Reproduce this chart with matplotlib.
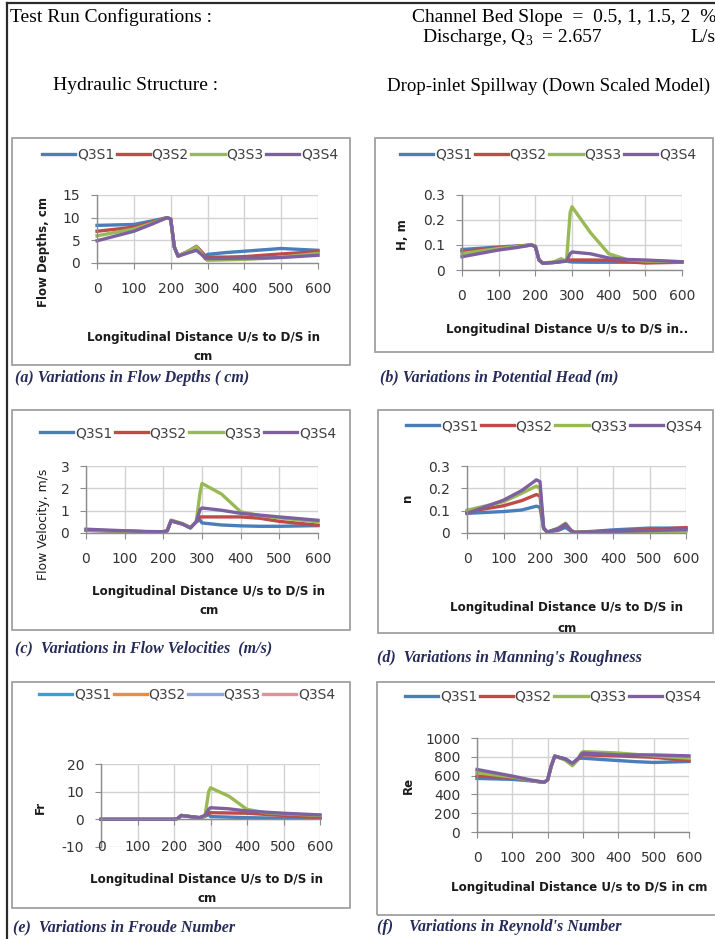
import matplotlib.pyplot as plt
from matplotlib.lines import Line2D
from matplotlib.patches import Rectangle

W, H = 715, 939

# longitudinal distance U/s to D/S (cm)
x_cm = [0, 100, 150, 190, 200, 210, 220, 250, 270, 285, 295, 300, 350, 400, 450, 500, 600]
x_ticks = [0, 100, 200, 300, 400, 500, 600]
series = ['Q3S1', 'Q3S2', 'Q3S3', 'Q3S4']

# (a) flow depth, cm
flow_depth = [
    [8.3, 8.5, 9.3, 10.0, 9.7, 3.5, 1.6, 2.6, 3.4, 2.2, 1.5, 1.9, 2.3, 2.6, 2.9, 3.2, 2.8],
    [7.0, 7.9, 9.0, 10.0, 9.7, 3.5, 1.5, 2.7, 3.7, 2.4, 1.4, 1.3, 1.3, 1.4, 1.7, 2.0, 2.5],
    [6.0, 7.5, 8.8, 10.0, 9.7, 3.5, 1.5, 2.7, 3.6, 2.0, 0.8, 0.6, 0.7, 0.8, 1.0, 1.3, 2.1],
    [4.9, 7.0, 8.6, 10.0, 9.7, 3.5, 1.5, 2.3, 2.8, 1.8, 1.0, 1.0, 1.0, 1.1, 1.1, 1.2, 1.7],
]
# (b) potential head, m
head_m = [
    [0.082, 0.092, 0.096, 0.100, 0.095, 0.040, 0.028, 0.030, 0.033, 0.035, 0.033, 0.032, 0.031, 0.031, 0.031, 0.032, 0.033],
    [0.074, 0.089, 0.095, 0.100, 0.095, 0.040, 0.028, 0.030, 0.034, 0.036, 0.040, 0.040, 0.040, 0.039, 0.033, 0.028, 0.031],
    [0.066, 0.086, 0.094, 0.100, 0.095, 0.040, 0.028, 0.032, 0.045, 0.035, 0.230, 0.253, 0.150, 0.065, 0.042, 0.036, 0.033],
    [0.053, 0.080, 0.090, 0.100, 0.093, 0.040, 0.027, 0.030, 0.034, 0.036, 0.065, 0.072, 0.065, 0.048, 0.042, 0.040, 0.033],
]
# (c) flow velocity, m/s
velocity = [
    [0.12, 0.08, 0.06, 0.05, 0.05, 0.10, 0.54, 0.40, 0.24, 0.50, 0.58, 0.45, 0.36, 0.32, 0.30, 0.30, 0.33],
    [0.12, 0.08, 0.06, 0.05, 0.05, 0.10, 0.54, 0.40, 0.24, 0.50, 0.72, 0.72, 0.72, 0.72, 0.66, 0.52, 0.35],
    [0.14, 0.08, 0.06, 0.05, 0.05, 0.10, 0.58, 0.42, 0.24, 0.50, 1.80, 2.22, 1.75, 0.95, 0.78, 0.68, 0.50],
    [0.17, 0.10, 0.07, 0.06, 0.06, 0.10, 0.55, 0.40, 0.22, 0.50, 1.05, 1.12, 1.02, 0.88, 0.80, 0.72, 0.57],
]
# (d) Manning's n
manning_n = [
    [0.088, 0.096, 0.103, 0.120, 0.115, 0.020, 0.004, 0.012, 0.025, 0.008, 0.003, 0.003, 0.008, 0.014, 0.018, 0.022, 0.022],
    [0.095, 0.122, 0.145, 0.172, 0.166, 0.020, 0.004, 0.018, 0.037, 0.010, 0.003, 0.003, 0.006, 0.009, 0.012, 0.015, 0.024],
    [0.102, 0.140, 0.178, 0.210, 0.200, 0.022, 0.004, 0.022, 0.044, 0.012, 0.003, 0.003, 0.004, 0.005, 0.006, 0.007, 0.008],
    [0.088, 0.147, 0.190, 0.238, 0.230, 0.022, 0.004, 0.020, 0.040, 0.012, 0.003, 0.003, 0.005, 0.007, 0.009, 0.011, 0.015],
]
# (e) Froude number
froude = [
    [0, 0, 0, 0, 0, 0.3, 1.4, 0.9, 0.6, 1.0, 1.8, 1.0, 0.8, 0.6, 0.5, 0.4, 0.4],
    [0, 0, 0, 0, 0, 0.3, 1.4, 0.9, 0.6, 1.2, 2.4, 2.4, 2.3, 2.2, 1.8, 1.4, 0.6],
    [0, 0, 0, 0, 0, 0.3, 1.4, 0.9, 0.6, 1.2, 10.0, 11.4, 8.4, 3.6, 2.4, 2.0, 1.4],
    [0, 0, 0, 0, 0, 0.3, 1.4, 0.9, 0.6, 1.5, 3.6, 4.2, 3.8, 3.0, 2.6, 2.2, 1.6],
]
# (f) Reynold's number
reynolds = [
    [570, 560, 545, 528, 555, 700, 805, 780, 730, 780, 785, 785, 772, 760, 748, 740, 750],
    [595, 580, 548, 528, 555, 700, 808, 770, 715, 770, 815, 820, 815, 810, 802, 795, 760],
    [630, 585, 550, 528, 555, 700, 808, 765, 705, 770, 840, 855, 848, 840, 825, 810, 785],
    [665, 595, 555, 530, 555, 700, 808, 775, 730, 775, 825, 840, 830, 820, 820, 820, 810],
]

line_colors = ['#4A7EBB', '#BE4B48', '#98B954', '#7D60A0']
legend_e_colors = ['#31A6C9', '#F08A3A', '#8DA9DB', '#DA9694']

XL = 'Longitudinal Distance U/s to D/S in'

panels = [
    dict(data=flow_depth, box=(12, 138, 350, 365), plot=(97, 195, 318, 263),
         ylim=(0, 15), yticks=[0, 5, 10, 15], ylabels=['0', '5', '10', '15'],
         legend=(190, 155), ylab=('Flow Depths, cm', 43, 252, 'bold', 8.5),
         xlab=[(XL, 204, 337), ('cm', 203, 357)],
         cap=('(a) Variations in Flow Depths ( cm)', 15, 378)),
    dict(data=head_m, box=(375, 138, 713, 352), plot=(462, 195, 682, 270),
         ylim=(0, 0.3), yticks=[0, 0.1, 0.2, 0.3], ylabels=['0', '0.1', '0.2', '0.3'],
         legend=(548, 155), ylab=('H, m', 402, 235, 'bold', 8.5),
         xlab=[(XL + '..', 567, 330)],
         cap=('(b) Variations in Potential Head (m)', 380, 377)),
    dict(data=velocity, box=(12, 410, 350, 630), plot=(86, 466, 318, 533),
         ylim=(0, 3), yticks=[0, 1, 2, 3], ylabels=['0', '1', '2', '3'],
         legend=(188, 433), ylab=('Flow Velocity, m/s', 43, 524, 'normal', 8.9),
         xlab=[(XL, 209, 592), ('cm', 209, 610)],
         cap=('(c)  Variations in Flow Velocities  (m/s)', 15, 648)),
    dict(data=manning_n, box=(378, 410, 713, 633), plot=(467, 466, 686, 533),
         ylim=(0, 0.3), yticks=[0, 0.1, 0.2, 0.3], ylabels=['0', '0.1', '0.2', '0.3'],
         legend=(554, 426), ylab=('n', 408, 498, 'bold', 8.5),
         xlab=[(XL, 567, 608), ('cm', 567, 628)],
         cap=("(d)  Variations in Manning's Roughness", 377, 658)),
    dict(data=froude, box=(12, 682, 350, 908), plot=(101, 764, 320, 847),
         ylim=(-10, 20), yticks=[-10, 0, 10, 20], ylabels=['-10', '0', '10', '20'],
         legend=(187, 695), ylab=('Fr', 40, 807, 'bold', 8.5),
         xlab=[(XL, 207, 880), ('cm', 207, 898)],
         cap=('(e)  Variations in Froude Number', 13, 927), lowlabels=True),
    dict(data=reynolds, box=(377, 682, 720, 915), plot=(477, 738, 689, 832),
         ylim=(0, 1000), yticks=[0, 200, 400, 600, 800, 1000],
         ylabels=['0', '200', '400', '600', '800', '1000'],
         legend=(553, 697), ylab=('Re', 408, 785, 'bold', 8.5),
         xlab=[(XL + ' cm', 579, 887)],
         cap=("(f)    Variations in Reynold's Number", 377, 927)),
]

plt.rcParams['mathtext.fontset'] = 'custom'
plt.rcParams['mathtext.rm'] = 'Liberation Serif'

fig = plt.figure(figsize=(W / 100, H / 100), dpi=100)
fig.patch.set_facecolor('white')


def fx(x):
    return x / W


def fy(y):
    return 1 - y / H


def ptext(x, y, s, **kw):
    kw.setdefault('va', 'center')
    fig.text(fx(x), fy(y), s, **kw)


# page border lines
fig.add_artist(Line2D([fx(7), fx(7)], [0, fy(3)], color='#2b2b2b', lw=1.6))
fig.add_artist(Line2D([fx(7), 1], [fy(3), fy(3)], color='#2b2b2b', lw=1.6))

serif = 'Liberation Serif'
ptext(10, 17, 'Test Run Configurations :', family=serif, fontsize=14)
ptext(412, 17, 'Channel Bed Slope  =  0.5, 1, 1.5, 2  %', family=serif, fontsize=14)
ptext(422, 38, 'Discharge, Q$_3$', family=serif, fontsize=14)
ptext(542, 38, '= 2.657', family=serif, fontsize=14)
ptext(690, 38, 'L/s', family=serif, fontsize=14)
ptext(53, 86, 'Hydraulic Structure :', family=serif, fontsize=14)
ptext(387, 86, 'Drop-inlet Spillway (Down Scaled Model)', family=serif, fontsize=13.6)

for i, p in enumerate(panels):
    bl, bt, br, bb = p['box']
    fig.add_artist(Rectangle((fx(bl), fy(bb)), (br - bl) / W, (bb - bt) / H,
                             transform=fig.transFigure, fill=False,
                             ec='#a0a0a0', lw=1.3))
    l, t, r, b = p['plot']
    ax = fig.add_axes([fx(l), fy(b), (r - l) / W, (b - t) / H])
    for k, vals in enumerate(p['data']):
        ax.plot(x_cm, vals, color=line_colors[k], lw=2.4, clip_on=False,
                solid_joinstyle='round')
    ax.set_xlim(0, 600)
    ax.set_ylim(*p['ylim'])
    ax.set_xticks(x_ticks)
    ax.set_yticks(p['yticks'])
    ax.set_yticklabels(p['ylabels'])
    for s in ['top', 'right']:
        ax.spines[s].set_visible(False)
    for s in ['left', 'bottom']:
        ax.spines[s].set_color('#8c8c8c')
        ax.spines[s].set_linewidth(1.0)
    ax.grid(True, color='#d2d2d2', lw=1.0)
    ax.set_axisbelow(True)
    ax.tick_params(axis='both', length=4, color='#8c8c8c', labelsize=10,
                   labelcolor='#333333')
    ax.tick_params(axis='y', pad=8)
    ax.tick_params(axis='x', pad=10)
    if p.get('lowlabels'):
        ax.spines['bottom'].set_position(('data', 0))
        ax.tick_params(axis='x', labelbottom=False)
        for xv in x_ticks:
            ax.text(xv, p['ylim'][0], str(xv), ha='center', va='center',
                    fontsize=10, color='#333333', clip_on=False)
        lc = legend_e_colors
    else:
        ax.set_xticklabels([str(v) for v in x_ticks])
        lc = line_colors
    handles = [Line2D([], [], color=c, lw=2.4) for c in lc]
    cx, cy = p['legend']
    ax.legend(handles, series, loc='center', bbox_to_anchor=(fx(cx), fy(cy)),
              bbox_transform=fig.transFigure, ncol=4, frameon=False,
              handlelength=2.4, handletextpad=0.1, columnspacing=0.2,
              fontsize=10, borderaxespad=0, labelcolor='#404040')

    s, x, y, wt, fs = p['ylab']
    ptext(x, y, s, rotation=90, ha='center', fontweight=wt, fontsize=fs,
          color='#1a1a1a')
    for s, x, y in p['xlab']:
        ptext(x, y, s, ha='center', fontweight='bold', fontsize=8.6,
              color='#1a1a1a')
    s, x, y = p['cap']
    ptext(x, y, s, family=serif, fontstyle='italic', fontweight='bold',
          fontsize=11.5, color='#262b5a')

fig.savefig('out.png', dpi=100, facecolor='white')
